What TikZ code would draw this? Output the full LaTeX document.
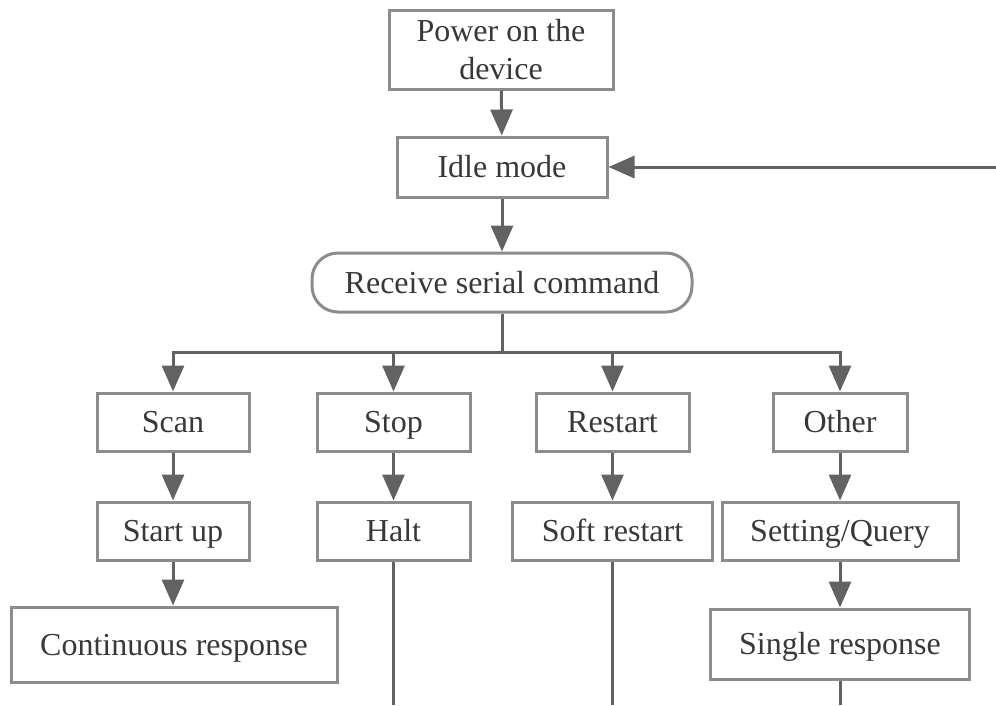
\documentclass[tikz,border=0pt]{standalone}
\usepackage{fontspec}
\setmainfont{Liberation Serif}
\usetikzlibrary{arrows.meta}
\definecolor{boxline}{HTML}{8C8C8C}
\definecolor{conn}{HTML}{626262}
\definecolor{txt}{HTML}{383838}
\tikzset{
  box/.style={draw=boxline, line width=3pt, rectangle, inner sep=0pt, align=center,
    text=txt, font=\fontsize{32}{38}\selectfont},
  one/.style={box, text height=24pt, text depth=3pt},
  rbox/.style={one, rounded corners=26pt},
  conline/.style={draw=conn, line width=3pt},
  arr/.style={conline, -{Triangle[width=22pt,length=26pt]}}
}
\begin{document}
\begin{tikzpicture}[x=1pt,y=-1pt]
\useasboundingbox (0,0) rectangle (996,705);
\node[box, minimum width=224pt, minimum height=79pt] (power) at (501,49.5) {Power on the\\device};
\node[one, minimum width=210pt, minimum height=60pt] (idle) at (502,167) {Idle mode};
\node[rbox, minimum width=380pt, minimum height=59pt] (recv) at (502,282.5) {Receive serial command};
\node[one, minimum width=152pt, minimum height=58pt] (scan) at (173,422) {Scan};
\node[one, minimum width=153pt, minimum height=58pt] (stop) at (393.5,422) {Stop};
\node[one, minimum width=153pt, minimum height=58pt] (restart) at (612.5,422) {Restart};
\node[one, minimum width=134pt, minimum height=58pt] (other) at (840,422) {Other};
\node[one, minimum width=152pt, minimum height=58pt] (startup) at (173,531) {Start up};
\node[one, minimum width=153pt, minimum height=58pt] (halt) at (393.5,531) {Halt};
\node[one, minimum width=200pt, minimum height=58pt] (soft) at (612.5,531) {Soft restart};
\node[one, minimum width=236pt, minimum height=58pt] (setq) at (840,531) {Setting/Query};
\node[one, minimum width=326pt, minimum height=75pt] (cont) at (174,644.5) {Continuous response};
\node[one, minimum width=259pt, minimum height=70pt] (single) at (840,644) {Single response};
\coordinate (bus) at (502,352);
\coordinate (fb) at (996,167);
\coordinate (bottom) at (0,705);
\draw[arr] (power) -- (idle);
\draw[arr] (idle) -- (recv);
\draw[conline] (recv.south) -- (bus);
\draw[arr] (bus) -| (scan.north);
\draw[arr] (bus) -| (stop.north);
\draw[arr] (bus) -| (restart.north);
\draw[arr] (bus) -| (other.north);
\draw[arr] (fb) -- (idle.east);
\draw[arr] (scan) -- (startup);
\draw[arr] (startup.south) -- (cont.north -| startup.south);
\draw[arr] (stop) -- (halt);
\draw[arr] (restart) -- (soft);
\draw[arr] (other) -- (setq);
\draw[arr] (setq.south) -- (single.north -| setq.south);
\draw[conline] (halt.south) -- (halt.south |- bottom);
\draw[conline] (soft.south) -- (soft.south |- bottom);
\draw[conline] (single.south) -- (single.south |- bottom);
\end{tikzpicture}
\end{document}
